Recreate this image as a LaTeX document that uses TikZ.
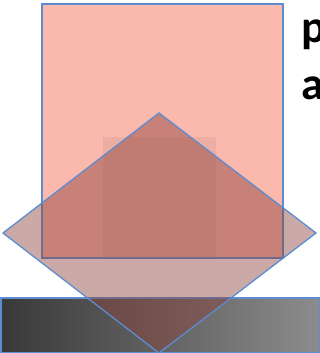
\documentclass[tikz,border=0pt]{standalone}
\usepackage{fontspec}
\newfontfamily\labelfont{Carlito}
\definecolor{edgeblue}{RGB}{91,141,208}
\definecolor{slabpink}{RGB}{251,184,173}
\definecolor{prismred}{RGB}{139,64,59}

\begin{document}
\begin{tikzpicture}[x=1pt,y=-1pt]

  % ================= frame =================
  \useasboundingbox (0,0) rectangle (320,353);
  \clip (0,0) rectangle (320,353);

  % ================= geometry =================
  \coordinate (T) at (159,113);           % diamond top
  \coordinate (R) at (316,233);           % diamond right
  \coordinate (B) at (159,353);           % diamond bottom
  \coordinate (L) at (3,233);             % diamond left

  % ================= base bar =================
  \shade[left color=black!78, right color=black!45] (0,298) rectangle (320,353);
  \draw[edgeblue, line width=1.5pt] (0.75,298) rectangle (319.25,352.25);

  % ================= upright block =================
  \fill[slabpink] (42,4) rectangle (283,258);
  \fill[black, opacity=0.06] (103,137) rectangle (216,258);
  \draw[edgeblue, line width=1.3pt] (42,4) rectangle (283,258);

  % ================= diamond =================
  \fill[prismred, opacity=0.45] (T) -- (R) -- (B) -- (L) -- cycle;
  \draw[edgeblue, line width=1.3pt] (T) -- (R) -- (B) -- (L) -- cycle;

  % ================= caption (cut at the edge) =================
  \node[font=\labelfont\bfseries\fontsize{46}{56}\selectfont, anchor=base west, inner sep=0pt] (capP) at (301,43) {p};
  \node[font=\labelfont\bfseries\fontsize{46}{56}\selectfont, anchor=base west, inner sep=0pt] (capA) at (301,99) {a};

\end{tikzpicture}
\end{document}
